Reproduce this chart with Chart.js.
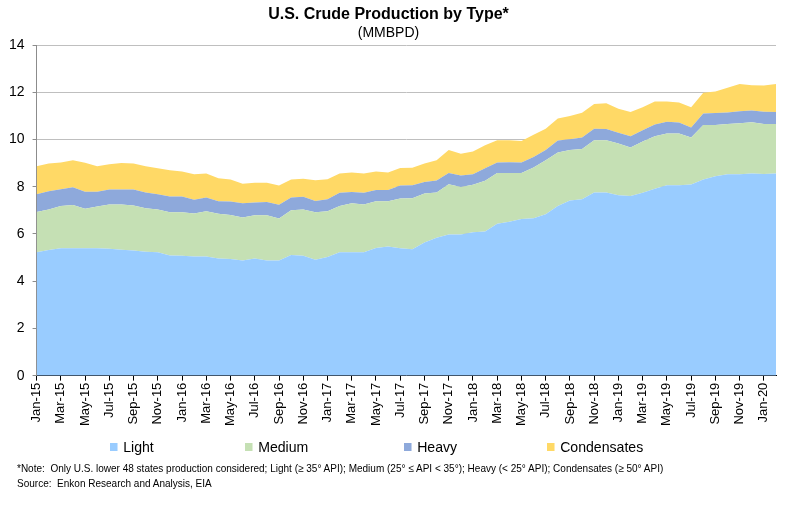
<!DOCTYPE html>
<html>
<head>
<meta charset="utf-8">
<script src="https://cdn.jsdelivr.net/npm/chart.js@4.4.1/dist/chart.umd.min.js"></script>
<style>
  body { margin: 0; background: #fff; }
  #wrap { position: relative; width: 807px; height: 515px; }
  #crude { position: absolute; left: 0; top: 0; }
  .leg { position: absolute; top: 438px; font: 15px "Liberation Sans", sans-serif; color: #000; white-space: nowrap; transform: scaleX(0.94); transform-origin: 0 0; }
  .leg i { display: inline-block; width: 8px; height: 8px; margin-right: 6px; vertical-align: 1px; }
  .note { position: absolute; left: 17px; font: 11px "Liberation Sans", sans-serif; color: #000; white-space: nowrap; transform: scaleX(0.91); transform-origin: 0 0; }
</style>
</head>
<body>
<div id="wrap">
  <canvas id="crude" width="807" height="515"></canvas>
  <div class="leg" style="left:110px"><i style="background:#99CCFF"></i>Light</div>
  <div class="leg" style="left:245px"><i style="background:#C5E0B4"></i>Medium</div>
  <div class="leg" style="left:404px"><i style="background:#8EA9DB"></i>Heavy</div>
  <div class="leg" style="left:547px"><i style="background:#FFD966"></i>Condensates</div>
  <div class="note" style="top:462px">*Note:&nbsp; Only U.S. lower 48 states production considered; Light (≥ 35° API); Medium (25° ≤ API &lt; 35°); Heavy (&lt; 25° API); Condensates (≥ 50° API)</div>
  <div class="note" style="top:477px">Source:&nbsp; Enkon Research and Analysis, EIA</div>
</div>
<script>
// monthly categories
const months = [
  'Jan-15','Feb-15','Mar-15','Apr-15','May-15','Jun-15','Jul-15','Aug-15','Sep-15','Oct-15','Nov-15','Dec-15',
  'Jan-16','Feb-16','Mar-16','Apr-16','May-16','Jun-16','Jul-16','Aug-16','Sep-16','Oct-16','Nov-16','Dec-16',
  'Jan-17','Feb-17','Mar-17','Apr-17','May-17','Jun-17','Jul-17','Aug-17','Sep-17','Oct-17','Nov-17','Dec-17',
  'Jan-18','Feb-18','Mar-18','Apr-18','May-18','Jun-18','Jul-18','Aug-18','Sep-18','Oct-18','Nov-18','Dec-18',
  'Jan-19','Feb-19','Mar-19','Apr-19','May-19','Jun-19','Jul-19','Aug-19','Sep-19','Oct-19','Nov-19','Dec-19',
  'Jan-20','Feb-20'
];

// MMBPD by type
const light = [
  5.23,5.32,5.39,5.39,5.39,5.39,5.37,5.33,5.30,5.25,
  5.22,5.09,5.08,5.05,5.05,4.96,4.94,4.88,4.96,4.88,
  4.88,5.11,5.08,4.91,5.02,5.23,5.23,5.23,5.40,5.47,
  5.39,5.35,5.64,5.84,5.98,5.98,6.07,6.10,6.43,6.52,
  6.63,6.66,6.83,7.18,7.42,7.47,7.76,7.75,7.64,7.61,
  7.74,7.91,8.06,8.06,8.09,8.30,8.44,8.53,8.53,8.56,
  8.54,8.56
];
const medium = [
  1.70,1.72,1.79,1.84,1.68,1.77,1.88,1.92,1.90,1.84,
  1.81,1.83,1.84,1.82,1.91,1.90,1.86,1.82,1.83,1.91,
  1.77,1.89,1.96,2.01,1.94,1.95,2.07,2.02,1.98,1.91,
  2.11,2.16,2.07,1.92,2.12,2.01,2.01,2.15,2.15,2.06,
  1.95,2.15,2.29,2.27,2.13,2.13,2.21,2.22,2.19,2.05,
  2.17,2.23,2.19,2.19,1.99,2.31,2.17,2.12,2.16,2.17,
  2.12,2.09
];
const heavy = [
  0.75,0.77,0.71,0.75,0.72,0.63,0.63,0.63,0.68,0.66,
  0.65,0.67,0.67,0.58,0.58,0.52,0.57,0.60,0.54,0.56,
  0.59,0.54,0.54,0.48,0.51,0.56,0.48,0.49,0.48,0.48,
  0.55,0.55,0.49,0.50,0.48,0.48,0.45,0.53,0.44,0.46,
  0.44,0.45,0.43,0.51,0.46,0.48,0.48,0.47,0.45,0.48,
  0.48,0.49,0.50,0.47,0.43,0.49,0.51,0.49,0.50,0.50,
  0.51,0.51
];
const condensates = [
  1.19,1.17,1.13,1.14,1.22,1.08,1.07,1.12,1.10,1.12,
  1.10,1.11,1.05,1.08,1.02,0.98,0.93,0.83,0.84,0.82,
  0.81,0.76,0.76,0.87,0.85,0.82,0.82,0.82,0.78,0.74,
  0.74,0.74,0.78,0.86,0.97,0.93,0.96,0.98,0.95,0.93,
  0.92,0.94,0.90,0.93,0.98,1.05,1.05,1.09,1.02,1.02,
  0.97,0.98,0.86,0.85,0.85,0.88,0.91,1.05,1.16,1.07,
  1.11,1.19
];

const area = (label, data, color, fill) => ({
  label, data, fill,
  backgroundColor: color,
  borderWidth: 0,
  pointRadius: 0,
  tension: 0
});

const ctx = document.getElementById('crude');
new Chart(ctx, {
  type: 'line',
  data: {
    labels: months,
    datasets: [
      area('Light', light, '#99CCFF', 'origin'),
      area('Medium', medium, '#C5E0B4', '-1'),
      area('Heavy', heavy, '#8EA9DB', '-1'),
      area('Condensates', condensates, '#FFD966', '-1')
    ]
  },
  options: {
    responsive: false,
    animation: false,
    layout: { padding: { left: 1, right: 31, top: 1, bottom: 87 } },
    plugins: {
      legend: { display: false },
      tooltip: { enabled: false },
      title: {
        display: true,
        text: 'U.S. Crude Production by Type*',
        color: '#000',
        font: { family: 'Liberation Sans', size: 16, weight: 'bold' },
        padding: { top: 4, bottom: 0 }
      },
      subtitle: {
        display: true,
        text: '(MMBPD)',
        color: '#000',
        font: { family: 'Liberation Sans', size: 14 },
        padding: { top: 1, bottom: 3 }
      }
    },
    scales: {
      x: {
        offset: false,
        border: { color: '#000', width: 1 },
        grid: {
          drawOnChartArea: false,
          tickLength: 5,
          tickColor: c => (c.index % 2 === 0 ? '#000' : 'rgba(0,0,0,0)')
        },
        ticks: {
          autoSkip: false,
          maxRotation: 90,
          minRotation: 90,
          color: '#000',
          padding: 2,
          font: { family: 'Liberation Sans', size: 13 },
          callback: (v, i) => (i % 2 === 0 ? months[i] : '')
        }
      },
      y: {
        stacked: true,
        min: 0,
        max: 14,
        border: { color: '#8C8C8C', width: 1 },
        grid: { color: '#BFBFBF', tickLength: 4, tickColor: '#8C8C8C' },
        ticks: {
          stepSize: 2,
          color: '#000',
          padding: 8,
          font: { family: 'Liberation Sans', size: 14 }
        }
      }
    }
  }
});
</script>
</body>
</html>
